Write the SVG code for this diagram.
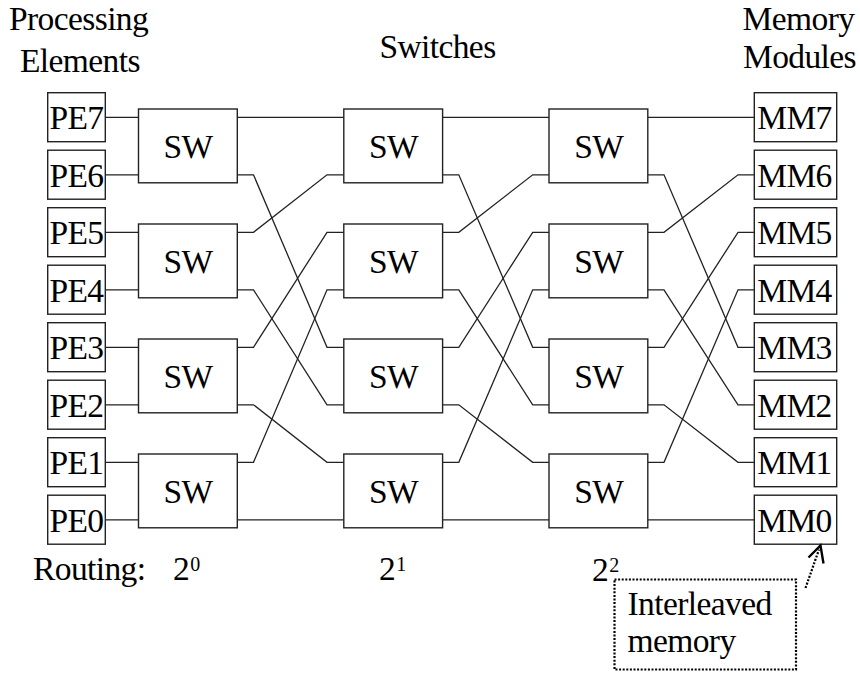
<svg xmlns="http://www.w3.org/2000/svg" width="860" height="677" viewBox="0 0 860 677">
  <style>
    text { font-family: "Liberation Serif", "Times New Roman", serif; fill: #000; }
    .lbl { font-size: 33.5px; letter-spacing: -0.6px; }
    .mid { text-anchor: middle; }
    .sup { font-size: 20px; letter-spacing: 0; }
    .box { fill: #fff; stroke: #222; stroke-width: 1.4; }
    .wire { fill: none; stroke: #222; stroke-width: 1.3; }
    .dot { fill: none; stroke: #000; stroke-width: 2.2; stroke-dasharray: 2 1.6; }
  </style>

  <!-- headings -->
  <g id="headings" class="lbl">
    <text x="9" y="30">Processing</text>
    <text x="20" y="72">Elements</text>
    <text x="437.5" y="58" class="mid">Switches</text>
    <text x="798.5" y="30" class="mid">Memory</text>
    <text x="799.5" y="68" class="mid">Modules</text>
  </g>

  <!-- connectors: PE -> stage 1, perfect-shuffle links between stages, stage 3 -> MM -->
  <g id="connectors" class="wire">
    <!-- PE to first stage -->
    <path d="M105.3 117.3H138.5 M105.3 174.8H138.5 M105.3 232.3H138.5 M105.3 289.8H138.5 M105.3 347.3H138.5 M105.3 404.8H138.5 M105.3 462.3H138.5 M105.3 519.8H138.5"/>
    <!-- stage 1 -> stage 2 -->
    <path d="M237.3 117.3H343.8"/>
    <path d="M237.3 174.8H253.5L327 347.3H343.8"/>
    <path d="M237.3 232.3H253.5L327 174.8H343.8"/>
    <path d="M237.3 289.8H253.5L327 404.8H343.8"/>
    <path d="M237.3 347.3H253.5L327 232.3H343.8"/>
    <path d="M237.3 404.8H253.5L327 462.3H343.8"/>
    <path d="M237.3 462.3H253.5L327 289.8H343.8"/>
    <path d="M237.3 519.8H343.8"/>
    <!-- stage 2 -> stage 3 -->
    <path d="M442.6 117.3H549"/>
    <path d="M442.6 174.8H458.8L532.7 347.3H549"/>
    <path d="M442.6 232.3H458.8L532.7 174.8H549"/>
    <path d="M442.6 289.8H458.8L532.7 404.8H549"/>
    <path d="M442.6 347.3H458.8L532.7 232.3H549"/>
    <path d="M442.6 404.8H458.8L532.7 462.3H549"/>
    <path d="M442.6 462.3H458.8L532.7 289.8H549"/>
    <path d="M442.6 519.8H549"/>
    <!-- stage 3 -> memory modules -->
    <path d="M647.8 117.3H754.3"/>
    <path d="M647.8 174.8H664L738 347.3H754.3"/>
    <path d="M647.8 232.3H664L738 174.8H754.3"/>
    <path d="M647.8 289.8H664L738 404.8H754.3"/>
    <path d="M647.8 347.3H664L738 232.3H754.3"/>
    <path d="M647.8 404.8H664L738 462.3H754.3"/>
    <path d="M647.8 462.3H664L738 289.8H754.3"/>
    <path d="M647.8 519.8H754.3"/>
  </g>

  <!-- processing elements -->
  <g id="pe7"><rect class="box" x="47.7" y="92.7" width="57.6" height="49"/><text class="lbl mid" x="76.5" y="129.3">PE7</text></g>
  <g id="pe6"><rect class="box" x="47.7" y="150.2" width="57.6" height="49"/><text class="lbl mid" x="76.5" y="186.8">PE6</text></g>
  <g id="pe5"><rect class="box" x="47.7" y="207.7" width="57.6" height="49"/><text class="lbl mid" x="76.5" y="244.3">PE5</text></g>
  <g id="pe4"><rect class="box" x="47.7" y="265.2" width="57.6" height="49"/><text class="lbl mid" x="76.5" y="301.8">PE4</text></g>
  <g id="pe3"><rect class="box" x="47.7" y="322.7" width="57.6" height="49"/><text class="lbl mid" x="76.5" y="359.3">PE3</text></g>
  <g id="pe2"><rect class="box" x="47.7" y="380.2" width="57.6" height="49"/><text class="lbl mid" x="76.5" y="416.8">PE2</text></g>
  <g id="pe1"><rect class="box" x="47.7" y="437.7" width="57.6" height="49"/><text class="lbl mid" x="76.5" y="474.3">PE1</text></g>
  <g id="pe0"><rect class="box" x="47.7" y="495.2" width="57.6" height="49"/><text class="lbl mid" x="76.5" y="531.8">PE0</text></g>

  <!-- switch stage 1 -->
  <g id="sw1-3"><rect class="box" x="138.5" y="109" width="98.8" height="73.8"/><text class="lbl mid" x="188" y="158.4">SW</text></g>
  <g id="sw1-2"><rect class="box" x="138.5" y="224" width="98.8" height="73.8"/><text class="lbl mid" x="188" y="273.4">SW</text></g>
  <g id="sw1-1"><rect class="box" x="138.5" y="339" width="98.8" height="73.8"/><text class="lbl mid" x="188" y="388.4">SW</text></g>
  <g id="sw1-0"><rect class="box" x="138.5" y="454" width="98.8" height="73.8"/><text class="lbl mid" x="188" y="503.4">SW</text></g>

  <!-- switch stage 2 -->
  <g id="sw2-3"><rect class="box" x="343.8" y="109" width="98.8" height="73.8"/><text class="lbl mid" x="393.5" y="158.4">SW</text></g>
  <g id="sw2-2"><rect class="box" x="343.8" y="224" width="98.8" height="73.8"/><text class="lbl mid" x="393.5" y="273.4">SW</text></g>
  <g id="sw2-1"><rect class="box" x="343.8" y="339" width="98.8" height="73.8"/><text class="lbl mid" x="393.5" y="388.4">SW</text></g>
  <g id="sw2-0"><rect class="box" x="343.8" y="454" width="98.8" height="73.8"/><text class="lbl mid" x="393.5" y="503.4">SW</text></g>

  <!-- switch stage 3 -->
  <g id="sw3-3"><rect class="box" x="549" y="109" width="98.8" height="73.8"/><text class="lbl mid" x="598.7" y="158.4">SW</text></g>
  <g id="sw3-2"><rect class="box" x="549" y="224" width="98.8" height="73.8"/><text class="lbl mid" x="598.7" y="273.4">SW</text></g>
  <g id="sw3-1"><rect class="box" x="549" y="339" width="98.8" height="73.8"/><text class="lbl mid" x="598.7" y="388.4">SW</text></g>
  <g id="sw3-0"><rect class="box" x="549" y="454" width="98.8" height="73.8"/><text class="lbl mid" x="598.7" y="503.4">SW</text></g>

  <!-- memory modules -->
  <g id="mm7"><rect class="box" x="754.3" y="92.7" width="82.4" height="49"/><text class="lbl mid" x="794.5" y="129.3">MM7</text></g>
  <g id="mm6"><rect class="box" x="754.3" y="150.2" width="82.4" height="49"/><text class="lbl mid" x="794.5" y="186.8">MM6</text></g>
  <g id="mm5"><rect class="box" x="754.3" y="207.7" width="82.4" height="49"/><text class="lbl mid" x="794.5" y="244.3">MM5</text></g>
  <g id="mm4"><rect class="box" x="754.3" y="265.2" width="82.4" height="49"/><text class="lbl mid" x="794.5" y="301.8">MM4</text></g>
  <g id="mm3"><rect class="box" x="754.3" y="322.7" width="82.4" height="49"/><text class="lbl mid" x="794.5" y="359.3">MM3</text></g>
  <g id="mm2"><rect class="box" x="754.3" y="380.2" width="82.4" height="49"/><text class="lbl mid" x="794.5" y="416.8">MM2</text></g>
  <g id="mm1"><rect class="box" x="754.3" y="437.7" width="82.4" height="49"/><text class="lbl mid" x="794.5" y="474.3">MM1</text></g>
  <g id="mm0"><rect class="box" x="754.3" y="495.2" width="82.4" height="49"/><text class="lbl mid" x="794.5" y="531.8">MM0</text></g>

  <!-- routing bits per stage -->
  <g id="routing" class="lbl">
    <text x="33" y="580">Routing:</text>
    <text x="173" y="580">2<tspan class="sup" dx="1" dy="-9">0</tspan></text>
    <text x="379" y="580">2<tspan class="sup" dx="1" dy="-9">1</tspan></text>
    <text x="592" y="580.5">2<tspan class="sup" dx="1" dy="-9">2</tspan></text>
  </g>

  <!-- interleaved memory note -->
  <g id="note">
    <rect class="dot" x="614.5" y="579.5" width="181.5" height="90"/>
    <path class="dot" d="M805.5 588L819 549.5"/>
    <path d="M808.5 557.5L820.5 545.5L823.5 563.5" fill="none" stroke="#000" stroke-width="2.4"/>
    <text class="lbl" x="627.5" y="615">Interleaved</text>
    <text class="lbl" x="627.5" y="651.5">memory</text>
  </g>
</svg>
